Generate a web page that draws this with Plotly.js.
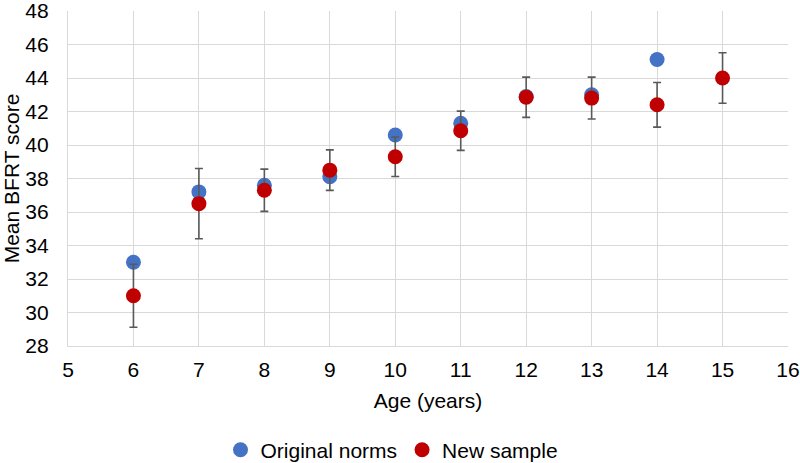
<!DOCTYPE html>
<html>
<head>
<meta charset="utf-8">
<script src="https://cdn.plot.ly/plotly-3.0.1.min.js"></script>
<style>
  body { margin: 0; background: #fff; }
  #plot { width: 800px; height: 463px; }
</style>
</head>
<body>
<div id="plot"></div>
<script>
// values
var ageNorms = [6, 7, 8, 9, 10, 11, 12, 13, 14];
var meanNorms = [33.0, 37.2, 37.6, 38.1, 40.6, 41.3, 42.9, 43.0, 45.1];

var ageNew = [6, 7, 8, 9, 10, 11, 12, 13, 14, 15];
var meanNew = [31.0, 36.5, 37.3, 38.5, 39.3, 40.85, 42.85, 42.8, 42.4, 44.0];
var errNew = [1.88, 2.1, 1.26, 1.21, 1.18, 1.17, 1.2, 1.25, 1.33, 1.51];

var xTicks = [5, 6, 7, 8, 9, 10, 11, 12, 13, 14, 15, 16];
var yTicks = [28, 30, 32, 34, 36, 38, 40, 42, 44, 46, 48];

var trace1 = {
    x: ageNorms,
    y: meanNorms,
    mode: "markers",
    type: "scatter",
    name: "Original norms",
    marker: {
        size: 15,
        color: "#4472c4"
    }
};

var trace2 = {
    x: ageNew,
    y: meanNew,
    mode: "markers",
    type: "scatter",
    name: "New sample",
    marker: {
        size: 15,
        color: "#c00000"
    },
    error_y: {
        type: "data",
        array: errNew,
        visible: true,
        color: "#595959",
        thickness: 1.6,
        width: 4
    }
};

var font = {family: "Liberation Sans, Arial, sans-serif", size: 21, color: "#000"};

var layout = {
    width: 800,
    height: 463,
    margin: {l: 68, r: 12, t: 11, b: 117},
    paper_bgcolor: "#fff",
    plot_bgcolor: "#fff",
    font: font,
    showlegend: true,
    legend: {
        orientation: "h",
        x: 0.49,
        xanchor: "center",
        xref: "container",
        y: 0.028,
        yanchor: "middle",
        yref: "container",
        font: font,
        itemwidth: 30,
        tracegroupgap: 0
    },
    xaxis: {
        range: [5, 16],
        tickvals: xTicks,
        showgrid: true,
        gridcolor: "#d9d9d9",
        gridwidth: 1.3,
        showline: true,
        linecolor: "#d9d9d9",
        linewidth: 1.3,
        zeroline: false,
        ticks: "",
        ticklabelstandoff: 5,
        ticklabeloverflow: "allow",
        title: {text: "Age (years)", font: font, standoff: 12}
    },
    yaxis: {
        range: [28, 48],
        tickvals: yTicks,
        showgrid: true,
        gridcolor: "#d9d9d9",
        gridwidth: 1.3,
        showline: true,
        linecolor: "#d9d9d9",
        linewidth: 1.3,
        zeroline: false,
        ticks: "",
        ticklabelstandoff: 14,
        ticklabeloverflow: "allow",
        title: {text: "Mean BFRT score", font: font, standoff: 10}
    }
};

Plotly.newPlot("plot", [trace1, trace2], layout, {displayModeBar: false});
</script>
</body>
</html>
